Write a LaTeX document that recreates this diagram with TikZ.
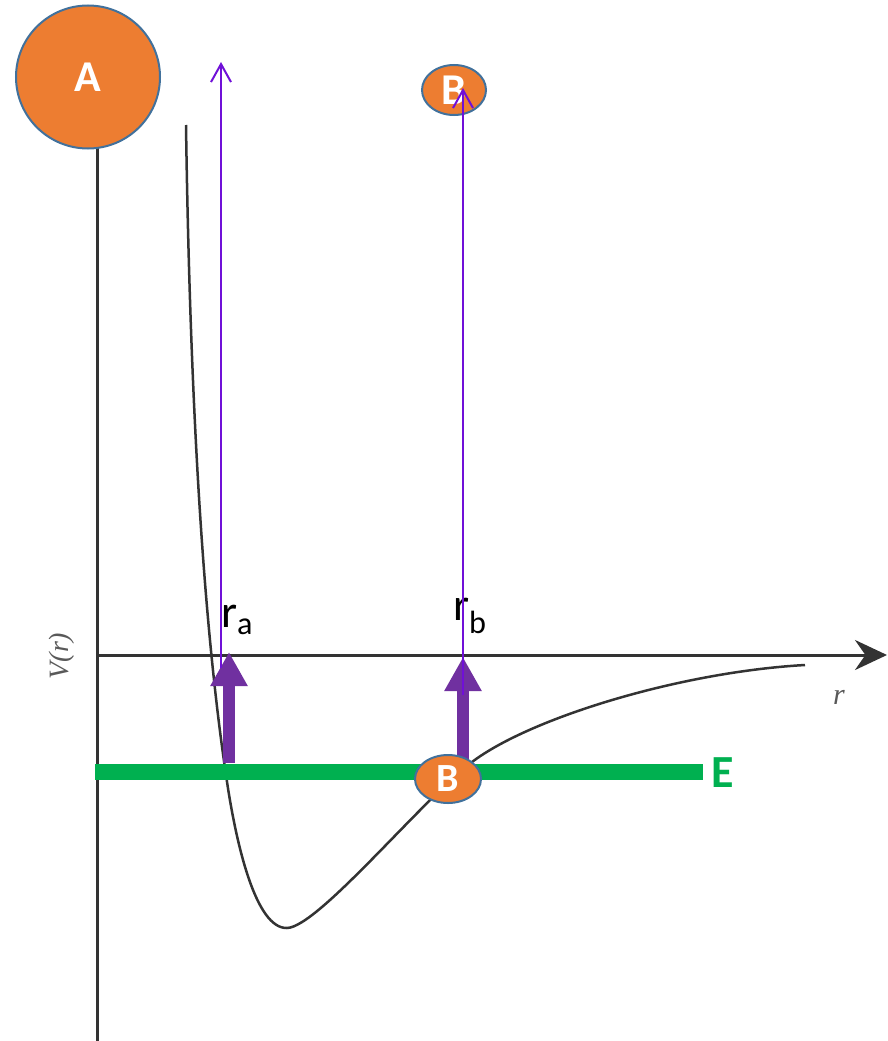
\documentclass[tikz,border=0pt]{standalone}
\usepackage{fontspec}
\setmainfont{Carlito}
\newfontfamily\plotfont{Liberation Serif}
\usetikzlibrary{arrows.meta, positioning, shapes.geometric}
\definecolor{corange}{HTML}{ED7D31}
\definecolor{cedge}{HTML}{41719C}
\definecolor{cgreen}{HTML}{00B050}
\definecolor{cpurple}{HTML}{7030A0}
\definecolor{cviolet}{HTML}{7010D8}
\definecolor{cink}{HTML}{333333}
\tikzset{
  every picture/.style={x=1pt, y=-1pt},
  atom/.style={ellipse, draw=cedge, fill=corange, line width=2pt, inner sep=0pt, text=white, font=\fontsize{44}{44}\selectfont\bfseries},
  axis/.style={draw=cink, line width=3pt},
  probe/.style={draw=cviolet, line width=2pt, -{Straight Barb[length=18pt, width=20pt, line width=2pt]}},
  push/.style={draw=cpurple, line width=12pt, -{Triangle[length=34pt, width=35pt]}},
  level/.style={draw=cgreen, line width=16pt},
  radius/.style={font=\fontsize{46}{46}\selectfont, inner sep=0pt, anchor=base west},
  plotlabel/.style={font=\plotfont\itshape\fontsize{28}{28}\selectfont, text=black!65, inner sep=0pt},
}

\begin{document}
\begin{tikzpicture}
  \useasboundingbox (0,0) rectangle (887,1041);
  % potential curve
  \draw[cink, line width=2.5pt] (186,125) .. controls (190,400) and (203,620) .. (226,775)
    .. controls (236,845) and (256,929) .. (287,928)
    .. controls (318,927) and (420,802) .. (472,762)
    .. controls (530,718) and (680,672) .. (805,665);
  % axes
  \coordinate (v top) at (97,140);
  \coordinate (v bottom) at (97,1041);
  \coordinate (origin) at (97,655);
  \coordinate (r end) at (887,655);
  \draw[axis] (v top) -- (v bottom);
  \draw[axis, -{Stealth[length=32pt, width=30pt]}] (origin) -- (r end);
  \node[plotlabel, rotate=90] (Vlabel) at (62,656) {V(r)};
  \node[plotlabel, font=\plotfont\itshape\fontsize{30}{30}\selectfont] (rlabel) at (839,697) {r};
  % energy level
  \coordinate (E left) at (95,772);
  \coordinate (E right) at (703,772);
  \draw[level] (E left) -- (E right);
  \node[anchor=base west, inner sep=0pt, text=cgreen, font=\fontsize{46}{46}\selectfont\bfseries] (E) at (711,787) {E};
  % turning points
  \coordinate (a low) at (229,763);
  \coordinate (a tip) at (229,652);
  \coordinate (b low) at (463,760);
  \coordinate (b tip) at (463,657);
  \draw[push] (a low) -- (a tip);
  \draw[push] (b low) -- (b tip);
  \node[radius] (ra) at (221,627) {r\textsubscript{a}};
  \node[radius] (rb) at (453,620) {r\textsubscript{b}};
  % atoms
  \node[atom, minimum width=144pt, minimum height=143pt] (A) at (88,77) {A};
  \node[atom, minimum width=64pt, minimum height=50pt] (B top) at (454,90) {B};
  \node[atom, minimum width=66pt, minimum height=48pt, font=\fontsize{40}{40}\selectfont\bfseries] (B low) at (448,779) {B};
  % separation probes
  \coordinate (ra base) at (221,668);
  \coordinate (ra top) at (221,62);
  \coordinate (rb base) at (463,695);
  \coordinate (rb top) at (463,88);
  \draw[probe] (ra base) -- (ra top);
  \draw[probe] (rb base) -- (rb top);
\end{tikzpicture}
\end{document}
